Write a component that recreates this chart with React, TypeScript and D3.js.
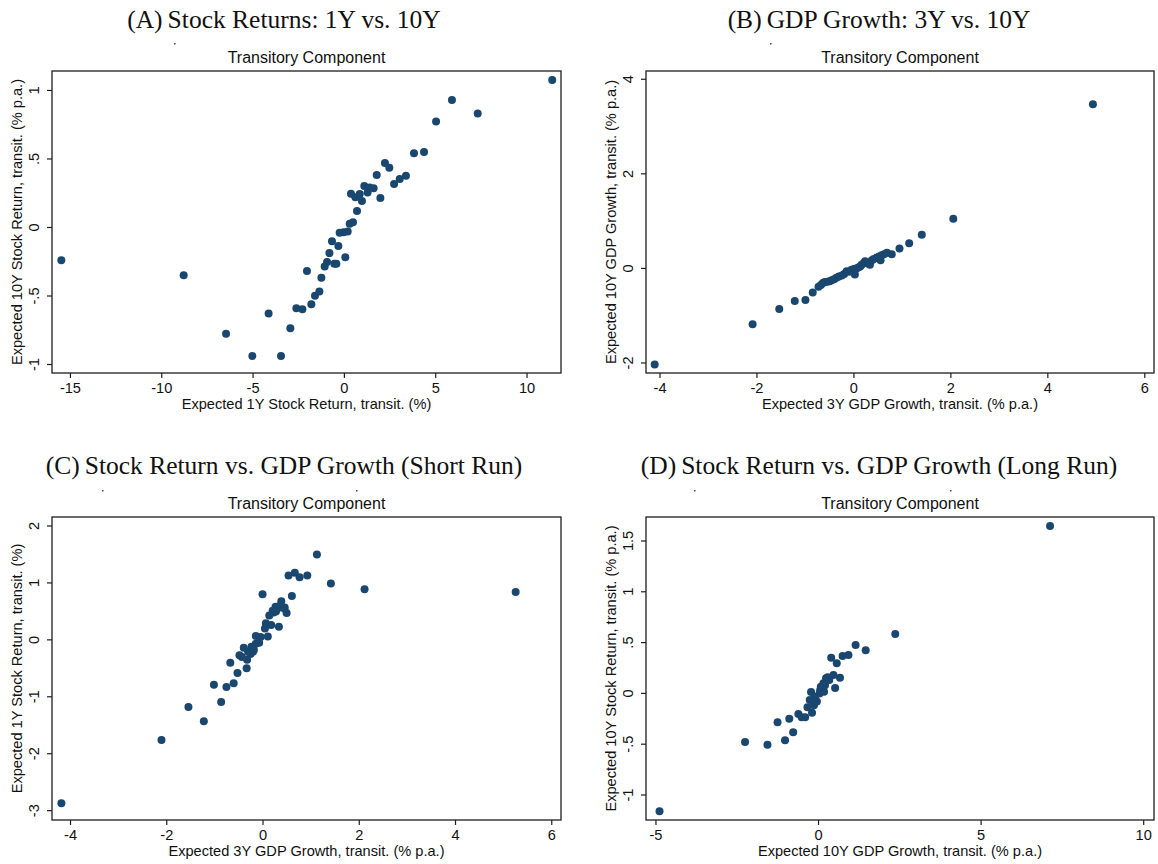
import React from "react";
import * as d3 from "d3";

// ---------- Data ----------
const panelLabels = ["(A)", "(B)", "(C)", "(D)"];
const panelTitles = [
  "Stock Returns: 1Y vs. 10Y",
  "GDP Growth: 3Y vs. 10Y",
  "Stock Return vs. GDP Growth (Short Run)",
  "Stock Return vs. GDP Growth (Long Run)",
];
const subtitle = "Transitory Component";
const xTitles = [
  "Expected 1Y Stock Return, transit. (%)",
  "Expected 3Y GDP Growth, transit. (% p.a.)",
  "Expected 3Y GDP Growth, transit. (% p.a.)",
  "Expected 10Y GDP Growth, transit. (% p.a.)",
];
const yTitles = [
  "Expected 10Y Stock Return, transit. (% p.a.)",
  "Expected 10Y GDP Growth, transit. (% p.a.)",
  "Expected 1Y Stock Return, transit. (%)",
  "Expected 10Y Stock Return, transit. (% p.a.)",
];

const pointsA: [number, number][] = [
  [-15.5, -0.24], [-8.8, -0.349], [-6.48, -0.776], [-5.04, -0.938], [-4.15, -0.628],
  [-3.47, -0.938], [-2.96, -0.735], [-2.63, -0.589], [-2.3, -0.596], [-2.05, -0.318],
  [-1.81, -0.56], [-1.61, -0.499], [-1.37, -0.468], [-1.26, -0.366], [-1.08, -0.284],
  [-0.95, -0.252], [-0.82, -0.187], [-0.68, -0.1], [-0.55, -0.264], [-0.44, -0.264],
  [-0.33, -0.136], [-0.26, -0.039], [-0.04, -0.034], [0.18, -0.029], [0.05, -0.218],
  [0.29, 0.027], [0.47, 0.039], [0.69, 0.121], [0.36, 0.247], [0.6, 0.221],
  [0.96, 0.194], [0.84, 0.245], [1.09, 0.303], [1.27, 0.255], [1.38, 0.291],
  [1.6, 0.286], [1.77, 0.383], [1.97, 0.216], [2.22, 0.47], [2.46, 0.436],
  [2.72, 0.318], [3.03, 0.354], [3.37, 0.378], [3.81, 0.541], [4.36, 0.55],
  [5.02, 0.773], [5.89, 0.931], [7.3, 0.832], [11.38, 1.076],
];

const pointsB: [number, number][] = [
  [-4.11, -2.03], [-2.09, -1.18], [-1.54, -0.86], [-1.22, -0.69], [-1.0, -0.67],
  [-0.85, -0.51], [-0.73, -0.39], [-0.68, -0.35], [-0.64, -0.31], [-0.6, -0.29],
  [-0.55, -0.28], [-0.5, -0.27], [-0.46, -0.25], [-0.41, -0.23], [-0.36, -0.2],
  [-0.31, -0.17], [-0.25, -0.15], [-0.2, -0.12], [-0.15, -0.06], [-0.1, -0.07],
  [-0.05, -0.03], [0.0, -0.01], [0.02, -0.13], [0.05, 0.0], [0.09, 0.02],
  [0.13, 0.04], [0.16, 0.08], [0.2, 0.11], [0.23, 0.15], [0.27, 0.12],
  [0.3, 0.1], [0.33, 0.08], [0.37, 0.17], [0.41, 0.2], [0.47, 0.23],
  [0.52, 0.25], [0.55, 0.17], [0.57, 0.28], [0.62, 0.3], [0.68, 0.33],
  [0.78, 0.3], [0.94, 0.42], [1.14, 0.53], [1.4, 0.71], [2.05, 1.05],
  [4.93, 3.47],
];

const pointsC: [number, number][] = [
  [-4.19, -2.87], [-2.11, -1.76], [-1.55, -1.18], [-1.23, -1.43], [-1.02, -0.79],
  [-0.87, -1.09], [-0.76, -0.83], [-0.61, -0.76], [-0.68, -0.4], [-0.53, -0.58],
  [-0.34, -0.5], [-0.49, -0.27], [-0.4, -0.14], [-0.44, -0.3], [-0.33, -0.35],
  [-0.31, -0.21], [-0.24, -0.12], [-0.19, -0.18], [-0.15, -0.07], [-0.26, -0.25],
  [-0.21, -0.21], [-0.15, 0.07], [-0.08, -0.05], [-0.05, 0.05], [-0.01, 0.8],
  [0.04, 0.2], [0.06, 0.29], [0.1, 0.06], [0.17, 0.26], [0.13, 0.43],
  [0.2, 0.51], [0.22, 0.48], [0.26, 0.58], [0.27, 0.5], [0.3, 0.55],
  [0.33, 0.23], [0.35, 0.6], [0.38, 0.68], [0.44, 0.55], [0.45, 0.57],
  [0.49, 0.47], [0.6, 0.77], [0.53, 1.13], [0.66, 1.18], [0.76, 1.1],
  [0.92, 1.13], [1.12, 1.5], [1.41, 0.99], [2.11, 0.89], [5.25, 0.84],
];

const pointsD: [number, number][] = [
  [-4.89, -1.16], [-2.26, -0.478], [-1.57, -0.505], [-1.03, -0.462], [-0.78, -0.383],
  [-1.26, -0.285], [-0.9, -0.249], [-0.62, -0.203], [-0.52, -0.235], [-0.41, -0.235],
  [-0.34, -0.137], [-0.2, -0.19], [-0.23, 0.014], [-0.14, -0.117], [-0.27, -0.065],
  [-0.11, -0.032], [-0.05, -0.08], [0.03, 0.0], [0.05, 0.03], [0.07, 0.066],
  [0.1, 0.05], [0.17, 0.017], [0.15, 0.099], [0.2, 0.08], [0.23, 0.148],
  [0.28, 0.16], [0.33, 0.132], [0.46, 0.181], [0.51, 0.053], [0.66, 0.155],
  [0.39, 0.351], [0.56, 0.296], [0.74, 0.368], [0.92, 0.378], [1.14, 0.476],
  [1.45, 0.424], [2.36, 0.585], [7.12, 1.648],
];

const xTicksA = [-15, -10, -5, 0, 5, 10];
const xTickLabelsA = ["-15", "-10", "-5", "0", "5", "10"];
const yTicksA = [-1, -0.5, 0, 0.5, 1];
const yTickLabelsA = ["-1", "-.5", "0", ".5", "1"];

const xTicksB = [-4, -2, 0, 2, 4, 6];
const xTickLabelsB = ["-4", "-2", "0", "2", "4", "6"];
const yTicksB = [-2, 0, 2, 4];
const yTickLabelsB = ["-2", "0", "2", "4"];

const xTicksC = [-4, -2, 0, 2, 4, 6];
const xTickLabelsC = ["-4", "-2", "0", "2", "4", "6"];
const yTicksC = [-3, -2, -1, 0, 1, 2];
const yTickLabelsC = ["-3", "-2", "-1", "0", "1", "2"];

const xTicksD = [-5, 0, 5, 10];
const xTickLabelsD = ["-5", "0", "5", "10"];
const yTicksD = [-1, -0.5, 0, 0.5, 1, 1.5];
const yTickLabelsD = ["-1", "-.5", "0", ".5", "1", "1.5"];

const xDomains: [number, number][] = [[-16.01, 11.86], [-4.289, 6.19], [-4.385, 6.192], [-5.306, 10.317]];
const yDomains: [number, number][] = [[-1.062, 1.142], [-2.212, 4.175], [-3.164, 2.158], [-1.246, 1.736]];

// ---------- Layout ----------
const COLOR = "#1a476f";
const SANS = "'Liberation Sans', Arial, sans-serif";
const SERIF = "'Liberation Serif', 'Times New Roman', serif";

const layouts = [
  { left: 52, right: 561, top: 71, bottom: 373, titleX: 284, titleY: 28, specks: [[174, 43]] },
  { left: 646, right: 1154, top: 71, bottom: 373, titleX: 879, titleY: 28, specks: [[770, 43]] },
  { left: 52, right: 561, top: 517, bottom: 820, titleX: 284, titleY: 474, specks: [[102, 490], [356, 490]] },
  { left: 646, right: 1154, top: 517, bottom: 820, titleX: 879, titleY: 474, specks: [[694, 490], [950, 490]] },
];

const allPoints = [pointsA, pointsB, pointsC, pointsD];
const allXTicks = [xTicksA, xTicksB, xTicksC, xTicksD];
const allXTickLabels = [xTickLabelsA, xTickLabelsB, xTickLabelsC, xTickLabelsD];
const allYTicks = [yTicksA, yTicksB, yTicksC, yTicksD];
const allYTickLabels = [yTickLabelsA, yTickLabelsB, yTickLabelsC, yTickLabelsD];

function Panel({ i }: { i: number }) {
  const L = layouts[i];
  const x = d3.scaleLinear().domain(xDomains[i]).range([L.left, L.right]);
  const y = d3.scaleLinear().domain(yDomains[i]).range([L.bottom, L.top]);
  const cx = (L.left + L.right) / 2;
  const cy = (L.top + L.bottom) / 2;
  const lineC = "#1e1e1e";
  return (
    <g>
      <text x={L.titleX} y={L.titleY} textAnchor="middle" fontFamily={SERIF} fontSize={25.5} fill="#111">
        <tspan>{panelLabels[i]}</tspan>
        <tspan dx={5}>{panelTitles[i]}</tspan>
      </text>
      {L.specks.map((s, k) => (
        <rect key={k} x={s[0]} y={s[1]} width={1.5} height={1.5} fill="#444" />
      ))}
      <text x={cx} y={L.top - 8} textAnchor="middle" fontFamily={SANS} fontSize={16} fill="#111">
        {subtitle}
      </text>
      <rect x={L.left} y={L.top} width={L.right - L.left} height={L.bottom - L.top} fill="white" stroke={lineC} strokeWidth={1.3} />
      {allXTicks[i].map((t, k) => (
        <g key={"x" + k}>
          <line x1={x(t)} x2={x(t)} y1={L.bottom} y2={L.bottom + 5} stroke={lineC} strokeWidth={1.2} />
          <text x={x(t)} y={L.bottom + 20} textAnchor="middle" fontFamily={SANS} fontSize={14.6} fill="#111">
            {allXTickLabels[i][k]}
          </text>
        </g>
      ))}
      {allYTicks[i].map((t, k) => (
        <g key={"y" + k}>
          <line x1={L.left - 5} x2={L.left} y1={y(t)} y2={y(t)} stroke={lineC} strokeWidth={1.2} />
          <text
            transform={`translate(${L.left - 13},${y(t)}) rotate(-90)`}
            textAnchor="middle"
            fontFamily={SANS}
            fontSize={14.6}
            fill="#111"
          >
            {allYTickLabels[i][k]}
          </text>
        </g>
      ))}
      <text x={cx} y={L.bottom + 36} textAnchor="middle" fontFamily={SANS} fontSize={14.6} fill="#111">
        {xTitles[i]}
      </text>
      <text
        transform={`translate(${L.left - 30},${cy}) rotate(-90)`}
        textAnchor="middle"
        fontFamily={SANS}
        fontSize={14.6}
        fill="#111"
      >
        {yTitles[i]}
      </text>
      {allPoints[i].map((p, k) => (
        <circle key={k} cx={x(p[0])} cy={y(p[1])} r={4} fill={COLOR} />
      ))}
    </g>
  );
}

export default function App() {
  return (
    <svg
      width={1158}
      height={864}
      viewBox="0 0 1158 864"
      style={{ position: "absolute", left: 0, top: 0, background: "white" }}
    >
      <rect width={1158} height={864} fill="white" />
      {[0, 1, 2, 3].map((i) => (
        <Panel key={i} i={i} />
      ))}
    </svg>
  );
}
